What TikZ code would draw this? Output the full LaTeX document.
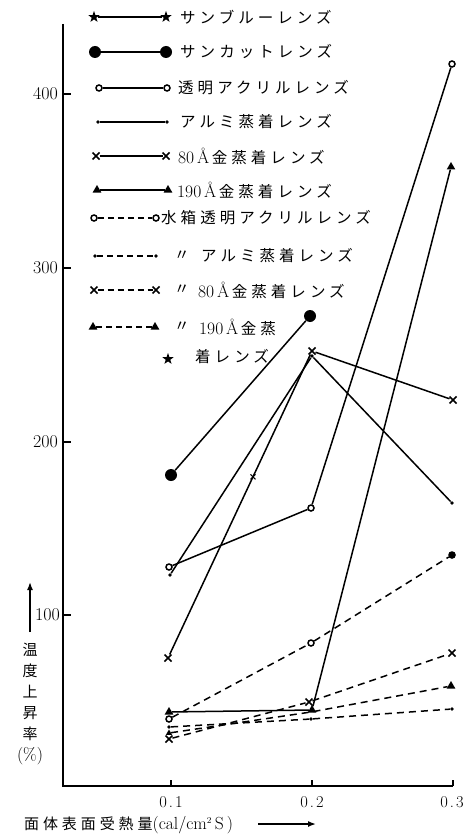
\documentclass[tikz,border=0pt]{standalone}
\usepackage{fontspec}
\newfontfamily\jp[LetterSpace=26]{Noto Sans CJK JP}
\newfontfamily\jpn{Noto Sans CJK JP}
\usetikzlibrary{shapes.geometric,shapes.misc,arrows.meta,calc}
\newcommand\latt[1]{{\rmfamily\fontsize{17.5}{17.5}\selectfont #1}}
\begin{document}
\begin{tikzpicture}[x=1pt,y=-1pt,
  ln/.style={line width=1.5pt},
  dln/.style={line width=1.5pt, dash pattern=on 7pt off 5pt},
  lgd/.style={line width=1.5pt, dash pattern=on 6pt off 4pt},
  axis/.style={line width=1.8pt},
  mstar/.style={star, star points=5, star point ratio=2.5, fill=black, inner sep=0pt, minimum size=12pt},
  mbig/.style={circle, fill=black, inner sep=0pt, minimum size=12pt},
  mopen/.style={circle, draw=black, line width=1.5pt, fill=white, inner sep=0pt, minimum size=6pt},
  mdot/.style={circle, fill=black, inner sep=0pt, minimum size=3.8pt},
  mcross/.style={cross out, draw=black, line width=1.5pt, inner sep=0pt, minimum size=5.5pt},
  mtri/.style={regular polygon, regular polygon sides=3, fill=black, inner sep=0pt, minimum size=10pt},
  lbl/.style={anchor=west, inner sep=0pt, font=\jp\fontsize{15.5}{15.5}\selectfont},
  num/.style={inner sep=0pt, font=\rmfamily\fontsize{18}{18}\selectfont}
]
\useasboundingbox[fill=white] (0,0) rectangle (473,837);

% axes
\coordinate (yTop) at (63,24);
\coordinate (org) at (63,786);
\coordinate (xEnd) at (453,786);
\draw[axis] (yTop) -- (org) -- (xEnd);
\foreach \yy in {94,268,442,615} \draw[axis] (63,\yy) -- (71,\yy);
\foreach \xx in {171,312,453} \draw[axis] (\xx,786) -- (\xx,780);
\node[num, anchor=east] (y400) at (58,94) {400};
\node[num, anchor=east] (y300) at (58,268) {300};
\node[num, anchor=east] (y200) at (58,442) {200};
\node[num, anchor=east] (y100) at (60,615) {100};
\node[num, font=\rmfamily\fontsize{16.5}{16.5}\selectfont] (x1) at (171,802) {0\hspace{2pt}.\hspace{2pt}1};
\node[num, font=\rmfamily\fontsize{16.5}{16.5}\selectfont] (x2) at (312,802) {0\hspace{2pt}.\hspace{2pt}2};
\node[num, font=\rmfamily\fontsize{16.5}{16.5}\selectfont] (x3) at (452,802) {0\hspace{2pt}.\hspace{2pt}3};

% axis titles
\node[anchor=west, inner sep=0pt, font=\jp\fontsize{15}{15}\selectfont] (xtitle) at (24,825)
  {面体表面受熱量\latt{(cal/cm$^{\scriptscriptstyle 2}$\,S\,)}};
\coordinate (xa1) at (258,824);
\coordinate (xa2) at (316,824);
\draw[line width=1.5pt, -{Latex[length=8pt,width=6pt]}] (xa1) -- (xa2);
\node[align=center, inner sep=0pt, font=\jpn\fontsize{15}{21}\selectfont] (ytitle) at (30,704)
  {温\\度\\上\\昇\\率\\\latt{(\%)}};
\coordinate (ya1) at (30,632);
\coordinate (ya2) at (30,582);
\draw[line width=1.5pt, -{Latex[length=8pt,width=6pt]}] (ya1) -- (ya2);

% legend
\node[mstar] (L1a) at (94,17) {};   \node[mstar] (L1b) at (166,17) {};
\draw[ln] (L1a) -- (L1b);
\node[lbl] (t1) at (180,17) {サンブルーレンズ};
\node[mbig] (L2a) at (95,52) {};    \node[mbig] (L2b) at (166,52) {};
\draw[ln] (L2a) -- (L2b);
\node[lbl] (t2) at (180,52) {サンカットレンズ};
\node[mopen] (L3a) at (99,88) {};   \node[mopen] (L3b) at (167,88) {};
\draw[ln] (L3a) -- (L3b);
\node[lbl] (t3) at (178,88) {透明アクリルレンズ};
\node[mdot] (L4a) at (98,122) {};   \node[mdot] (L4b) at (167,122) {};
\draw[ln] (L4a) -- (L4b);
\node[lbl] (t4) at (180,122) {アルミ蒸着レンズ};
\node[mcross] (L5a) at (96,156) {}; \node[mcross] (L5b) at (166,156) {};
\draw[ln] (L5a) -- (L5b);
\node[lbl] (t5) at (178,156) {\latt{80\,Å}\,金蒸着レンズ};
\node[mtri] (L6a) at (97,190) {};   \node[mtri] (L6b) at (168,190) {};
\draw[ln] (L6a) -- (L6b);
\node[lbl] (t6) at (177,190) {\latt{190\,Å}\,金蒸着レンズ};
\node[mopen] (L7a) at (94,218) {};  \node[mopen] (L7b) at (156,218) {};
\draw[lgd] (L7a) -- (L7b);
\node[lbl] (t7) at (161,218) {水箱透明アクリルレンズ};
\node[mdot] (L8a) at (95,256) {};   \node[mdot] (L8b) at (156,256) {};
\draw[lgd] (L8a) -- (L8b);
\node[lbl] (d8) at (174,256) {〃};
\node[lbl] (t8) at (201,256) {アルミ蒸着レンズ};
\node[mcross] (L9a) at (94,290) {}; \node[mcross] (L9b) at (156,290) {};
\draw[lgd] (L9a) -- (L9b);
\node[lbl] (d9) at (174,290) {〃};
\node[lbl] (t9) at (198,290) {\latt{80\,Å}\,金蒸着レンズ};
\node[mtri] (L10a) at (93,327) {};  \node[mtri] (L10b) at (155,327) {};
\draw[lgd] (L10a) -- (L10b);
\node[lbl] (d10) at (174,327) {〃};
\node[lbl] (t10) at (199,327) {\latt{190\,Å}\,金蒸};
\node[lbl] (t10b) at (195,357) {着レンズ};

% data: solid series
\node[mstar] (sbA) at (168,359) {};
\node[mbig] (scA) at (171,475) {};
\node[mbig] (scB) at (310,316) {};
\draw[ln] (scA) -- (scB);

\node[mopen] (taA) at (169,567) {};
\node[mopen] (taB) at (311,508) {};
\node[mopen] (taC) at (452,64) {};
\draw[ln] (taA) -- (taB) -- (taC);

\node[mdot] (alA) at (170,575) {};
\node[mdot] (alB) at (312,356) {};
\node[mdot] (alC) at (452,503) {};
\draw[ln] (alA) -- (alB) -- (alC);

\node[mcross] (gA) at (168,658) {};
\node[mcross] (gB) at (312,351) {};
\node[mcross] (gC) at (453,400) {};
\draw[ln] (gA) -- (gB) -- (gC);
\node[mcross, minimum size=4pt, line width=1pt] (gM) at ($(gA)!0.59!(gB)$) {};

\node[mtri] (tA) at (169,712) {};
\node[mtri] (tB) at (312,710) {};
\node[mtri] (tC) at (451,167) {};
\draw[ln] (tA) -- (tB) -- (tC);

% data: dashed series
\node[mopen] (waA) at (169,719) {};
\node[mopen] (waB) at (311,643) {};
\node[mopen, fill=black] (waC) at (452,555) {};
\draw[dln] (waA) -- (waB) -- (waC);

\node[mdot] (daA) at (169,727) {};
\node[mdot] (daB) at (311,719) {};
\node[mdot] (daC) at (452,709) {};
\draw[dln] (daA) -- (daB) -- (daC);

\node[mcross] (dgA) at (169,739) {};
\node[mcross] (dgB) at (309,702) {};
\node[mcross] (dgC) at (452,653) {};
\draw[dln] (dgA) -- (dgB) -- (dgC);

\node[mtri, minimum size=7pt] (dtA) at (169,733) {};
\coordinate (dtB) at (311,712);
\node[mtri] (dtC) at (451,686) {};
\draw[dln] (dtA) -- (dtB) -- (dtC);
\end{tikzpicture}
\end{document}
